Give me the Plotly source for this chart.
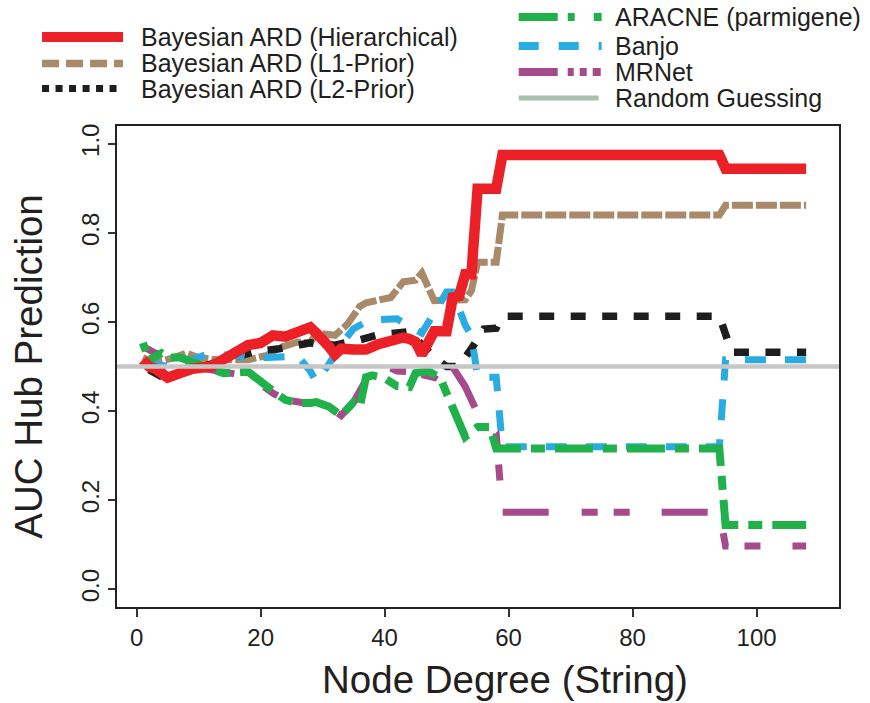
import math
import plotly.graph_objects as go

# ---------------- data ----------------
red_x = [1, 2, 3, 5, 7, 9, 12, 14, 16, 18, 20, 22, 24, 26, 28, 29, 30, 31, 32, 33, 35, 37, 39, 41, 43, 44, 45, 46, 48, 50, 51, 52, 53, 54, 55, 58, 59, 94, 95, 108]
red_y = [0.515, 0.50, 0.495, 0.475, 0.485, 0.495, 0.50, 0.515, 0.53, 0.548, 0.553, 0.57, 0.567, 0.578, 0.588, 0.575, 0.562, 0.545, 0.527, 0.54, 0.538, 0.538, 0.55, 0.56, 0.565, 0.562, 0.555, 0.527, 0.579, 0.579, 0.655, 0.658, 0.707, 0.707, 0.899, 0.899, 0.975, 0.975, 0.944, 0.944]

tan_x = [1, 3, 6, 8, 10, 13, 18, 21, 23, 26, 28, 29, 32, 34, 36, 37, 41, 43, 45, 46, 48, 53, 54, 55, 58, 59, 94, 95, 108]
tan_y = [0.52, 0.508, 0.52, 0.53, 0.52, 0.515, 0.515, 0.525, 0.542, 0.555, 0.553, 0.575, 0.57, 0.595, 0.635, 0.643, 0.655, 0.69, 0.694, 0.71, 0.648, 0.65, 0.67, 0.734, 0.734, 0.84, 0.84, 0.862, 0.862]

blk_x = [1, 3, 5, 8, 12, 15, 19, 23, 28, 30, 32, 36, 39, 44, 46, 48, 50, 52, 54, 56, 58, 59, 94, 95, 96, 108]
blk_y = [0.50, 0.485, 0.47, 0.49, 0.505, 0.52, 0.533, 0.54, 0.553, 0.55, 0.548, 0.56, 0.571, 0.578, 0.55, 0.52, 0.50, 0.50, 0.54, 0.584, 0.586, 0.613, 0.613, 0.575, 0.532, 0.532]

blu_x = [1, 5, 8, 11, 15, 18, 21, 24, 26, 28, 29, 31, 33, 35, 37, 39, 42, 44, 46, 48, 50, 51, 53, 54, 55, 58, 59, 94, 95, 108]
blu_y = [0.51, 0.50, 0.51, 0.526, 0.526, 0.52, 0.52, 0.523, 0.523, 0.49, 0.466, 0.505, 0.55, 0.585, 0.60, 0.605, 0.607, 0.59, 0.575, 0.62, 0.667, 0.667, 0.593, 0.57, 0.476, 0.476, 0.32, 0.32, 0.515, 0.515]

grn_x = [1, 2, 4, 5, 7, 10, 14, 18, 20, 22, 24, 26, 28, 29, 31, 33, 35, 36, 37, 38, 40, 42, 44, 45, 47, 49, 50, 51, 52, 53, 55, 57, 58, 94, 95, 108]
grn_y = [0.553, 0.515, 0.53, 0.52, 0.52, 0.503, 0.485, 0.488, 0.465, 0.445, 0.425, 0.418, 0.418, 0.42, 0.41, 0.39, 0.42, 0.41, 0.476, 0.48, 0.474, 0.456, 0.454, 0.485, 0.49, 0.474, 0.44, 0.405, 0.38, 0.342, 0.364, 0.364, 0.316, 0.316, 0.144, 0.144]

mag_x = [1, 3, 5, 8, 11, 14, 17, 20, 22, 24, 26, 28, 31, 33, 35, 37, 38, 40, 42, 44, 46, 48, 50, 51, 52, 53, 55, 58, 59, 94, 95, 108]
mag_y = [0.545, 0.53, 0.525, 0.51, 0.495, 0.488, 0.48, 0.46, 0.44, 0.425, 0.42, 0.415, 0.41, 0.39, 0.42, 0.47, 0.49, 0.503, 0.49, 0.488, 0.48, 0.475, 0.52, 0.50, 0.475, 0.455, 0.395, 0.35, 0.173, 0.173, 0.097, 0.097]

random_auc = 0.5

series_names = ["Bayesian ARD (Hierarchical)", "Bayesian ARD (L1-Prior)", "Bayesian ARD (L2-Prior)",
                "ARACNE (parmigene)", "Banjo", "MRNet", "Random Guessing"]

x_ticks = [0, 20, 40, 60, 80, 100]
y_ticks = [0.0, 0.2, 0.4, 0.6, 0.8, 1.0]
y_tick_labels = ["0.0", "0.2", "0.4", "0.6", "0.8", "1.0"]
x_title = "Node Degree (String)"
y_title = "AUC Hub Prediction"

# ---------------- styles ----------------
C_RED = "#EC2027"
C_TAN = "#A88A6A"
C_BLK = "#1E1E1E"
C_GRN = "#20B14B"
C_BLU = "#2AACE2"
C_MAG = "#A54A8B"
C_GRY = "#C6C6C6"
C_GRY_LEG = "#A9BFB0"
TXT = "#231F20"
FONT = "Liberation Sans, Arial, Helvetica, sans-serif"

W, H = 870, 703
L, R, T, B = 117, 839.5, 126, 607
XR = [-3.17, 113.3]
YR = [-0.04, 1.04]
SX = (R - L) / (XR[1] - XR[0])
SY = (B - T) / (YR[1] - YR[0])


def phased_dash(xs, ys, pattern, anchor_i, anchor_phase, reps=30):
    """Dash string whose pattern phase equals anchor_phase at vertex anchor_i."""
    length = 0.0
    for k in range(anchor_i):
        length += math.hypot((xs[k + 1] - xs[k]) * SX, (ys[k + 1] - ys[k]) * SY)
    period = sum(pattern)
    p0 = (anchor_phase - length) % period
    acc = 0.0
    for i, e in enumerate(pattern):
        if acc + e > p0:
            break
        acc += e
    r = p0 - acc
    head = [pattern[i] - r] + pattern[i + 1:]
    if i % 2 == 1:
        head = [0] + head
    seq = head + pattern * reps
    return ",".join(f"{v:.2f}px" for v in seq)


fig = go.Figure()


def add(x, y, color, width, dash, name):
    fig.add_trace(go.Scatter(x=x, y=y, mode="lines", name=name, showlegend=False,
                             line=dict(color=color, width=width, dash=dash)))


add(tan_x, tan_y, C_TAN, 7, "21px,3px", series_names[1])
add(blk_x, blk_y, C_BLK, 7.5, phased_dash(blk_x, blk_y, [15, 16.5], blk_x.index(59), 26.5), series_names[2])
add(blu_x, blu_y, C_BLU, 7, phased_dash(blu_x, blu_y, [21, 19], blu_x.index(95), 21), series_names[4])
add(mag_x, mag_y, C_MAG, 7, phased_dash(mag_x, mag_y, [46, 33, 16, 16, 16, 32], mag_x.index(59), 0), series_names[5])
add(grn_x, grn_y, C_GRN, 8, phased_dash(grn_x, grn_y, [38, 10, 14, 10], grn_x.index(58), 13.6), series_names[3])
add(red_x, red_y, C_RED, 10.5, "solid", series_names[0])

shapes = [dict(type="line", xref="paper", yref="y", x0=0, x1=1, y0=random_auc, y1=random_auc,
               line=dict(color=C_GRY, width=4.5), layer="above")]


def pxx(px):
    return (px - L) / (R - L)


def pxy(py):
    return (B - py) / (B - T)


legend_items = [
    (0, C_RED, 10, "solid", 42, 123, 37, 139.5),
    (1, C_TAN, 7.5, "17px,7px", 42, 123, 63.5, 139.5),
    (2, C_BLK, 7, "7px,6.5px", 42, 123, 88.5, 139.5),
    (3, C_GRN, 8, "39px,10px,7px,19px,8px,30px", 519, 602, 17, 613),
    (4, C_BLU, 8, "20px,20px", 519, 602, 46, 613),
    (5, C_MAG, 8, "39px,10px,6px,6px,7px,6px,8px,40px", 519, 602, 72, 613),
    (6, C_GRY_LEG, 5, "solid", 519, 599, 98, 613),
]
annotations = []
for idx, col, wdt, dsh, x0, x1, ry, tx in legend_items:
    shapes.append(dict(type="line", xref="paper", yref="paper",
                       x0=pxx(x0), x1=pxx(x1), y0=pxy(ry), y1=pxy(ry),
                       line=dict(color=col, width=wdt, dash=dsh)))
    annotations.append(dict(xref="paper", yref="paper", x=pxx(tx), y=pxy(ry),
                            xanchor="left", yanchor="middle", showarrow=False,
                            text=series_names[idx], font=dict(family=FONT, size=25, color=TXT)))

# x-axis title (placed as in the reference, slightly right of centre)
annotations.append(dict(xref="paper", yref="paper", x=pxx(505), y=pxy(679), xanchor="center",
                        yanchor="middle", showarrow=False, text=x_title,
                        font=dict(family=FONT, size=38.5, color=TXT)))

fig.update_layout(
    width=W, height=H,
    margin=dict(l=L, r=W - R, t=T, b=H - B, pad=0),
    paper_bgcolor="white", plot_bgcolor="white",
    font=dict(family=FONT, color=TXT),
    showlegend=False,
    shapes=shapes,
    annotations=annotations,
    xaxis=dict(range=XR, tickvals=x_ticks, ticks="outside", ticklen=8, tickwidth=1.5,
               tickcolor="#333333", showgrid=False, zeroline=False, showline=True, linecolor="#222222",
               linewidth=1.6, mirror=True, tickfont=dict(size=24, color=TXT)),
    yaxis=dict(range=YR, tickvals=y_ticks, ticktext=y_tick_labels, tickangle=-90,
               ticks="outside", ticklen=7, tickwidth=1.5, tickcolor="#333333", showgrid=False,
               zeroline=False, showline=True, linecolor="#222222", linewidth=1.6, mirror=True,
               tickfont=dict(size=24, color=TXT),
               title=dict(text=y_title, font=dict(size=38.5, color=TXT), standoff=22)),
)

fig.write_html("out.html")
